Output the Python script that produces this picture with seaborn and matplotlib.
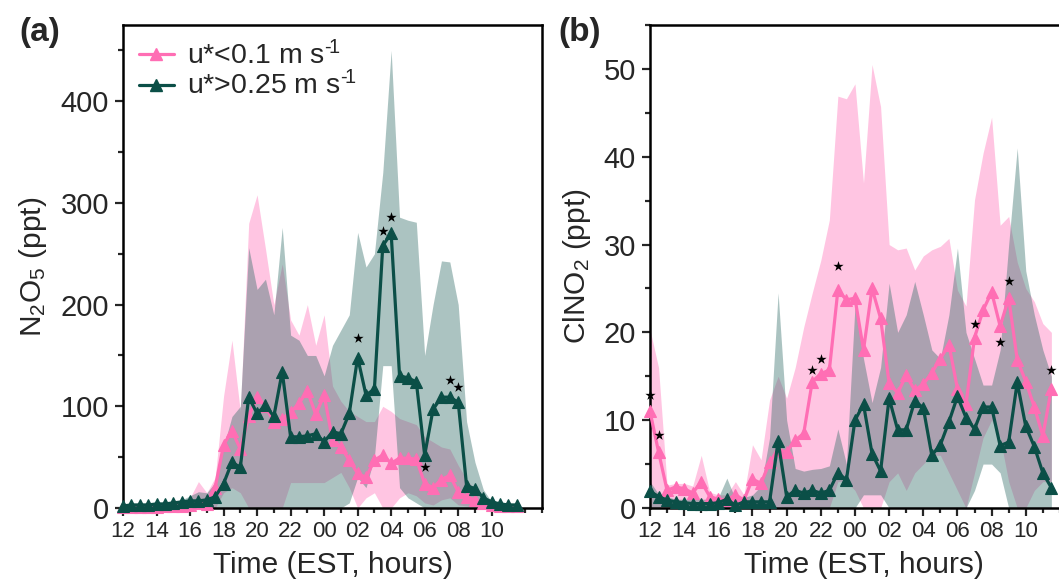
import numpy as np
import pandas as pd
import matplotlib
matplotlib.use("Agg")
import matplotlib.pyplot as plt
from matplotlib.lines import Line2D
from matplotlib.ticker import MultipleLocator
import seaborn as sns

sns.set_style("ticks")
plt.rcParams['font.family'] = ['Liberation Sans', 'DejaVu Sans']
plt.rcParams['mathtext.fontset'] = 'custom'
plt.rcParams['mathtext.rm'] = 'Liberation Sans'
plt.rcParams['mathtext.it'] = 'Liberation Sans:italic'

# half-hourly time grid (hours since 00:00 of day 1)
hours = np.arange(12.0, 36.0, 0.5)
xtick_pos = [12, 14, 16, 18, 20, 22, 24, 26, 28, 30, 32, 34]
xtick_labels = ["12", "14", "16", "18", "20", "22", "00", "02", "04", "06", "08", "10"]

# ---------------- panel (a): N2O5 ----------------
n2o5_low_mean = [1, 1, 1, 1, 1, 2, 2, 2, 3, 5, 4, 20, 62, 76, 58, 90, 109, 100, 85, 88,
                 94, 103, 115, 92, 111, 67, 60, 47, 34, 30, 47, 52, 44, 49, 49, 48, 24, 20,
                 28, 32, 16, 11, 8, 5, 3, 2, 2, 2]
n2o5_low_hi = [2, 2, 2, 3, 3, 3, 4, 5, 10, 26, 15, 30, 110, 165, 95, 280, 308, 255, 200, 240,
               185, 170, 200, 160, 190, 120, 105, 95, 90, 85, 85, 100, 95, 88, 85, 82, 70, 65,
               60, 58, 42, 28, 18, 10, 5, 3, 3, 3]
n2o5_low_lo = [0, 0, 0, 0, 0, 0, 0, 0, 0, 0, 0, 0, 15, 20, 15, 0, 0, 0, 0, 0,
               25, 25, 25, 25, 25, 30, 35, 20, 0, 10, 15, 0, 0, 10, 15, 12, 5, 3,
               8, 10, 3, 2, 1, 0, 0, 0, 0, 0]
n2o5_high_mean = [2, 3, 3, 3, 4, 4, 5, 6, 7, 7, 8, 11, 24, 45, 40, 109, 93, 101, 90, 134,
                  70, 70, 71, 73, 65, 75, 73, 93, 148, 111, 117, 258, 270, 130, 128, 124, 52, 97,
                  109, 109, 104, 22, 19, 10, 6, 4, 3, 3]
n2o5_high_hi = [3, 4, 4, 4, 5, 5, 6, 8, 12, 16, 15, 25, 60, 90, 100, 256, 215, 225, 190, 276,
                170, 165, 150, 150, 130, 160, 175, 190, 271, 237, 250, 330, 450, 286, 283, 281, 150, 200,
                243, 242, 200, 85, 45, 18, 6, 4, 3, 3]
n2o5_high_lo = [0, 0, 0, 0, 0, 0, 0, 0, 0, 0, 0, 0, 0, 0, 0, 0, 0, 0, 0, 0,
                0, 0, 0, 0, 0, 0, 0, 5, 30, 20, 50, 140, 140, 20, 10, 5, 0, 0,
                0, 0, 0, 0, 0, 0, 0, 0, 0, 0]
stars_a_idx = [28, 31, 32, 36, 39, 40]
stars_a_val = [167, 272, 286, 40, 126, 119]

# ---------------- panel (b): ClNO2 ----------------
clno2_low_mean = [11.0, 6.4, 2.0, 2.4, 2.2, 1.7, 3.0, 1.3, 1.0, 0.9, 1.5, 0.9, 3.3, 2.8, 5.2, 6.6,
                  6.4, 7.7, 8.5, 14.4, 15.3, 15.7, 24.8, 23.7, 23.9, 18.0, 25.0, 21.6, 14.2, 13.1,
                  15.1, 13.4, 14.1, 15.4, 17.0, 18.6, 13.6, 11.8, 19.4, 22.5, 24.6, 20.7, 23.9,
                  16.9, 14.4, 11.5, 8.2, 13.6]
clno2_low_hi = [20.3, 16.0, 2.6, 2.8, 2.8, 2.5, 6.0, 1.8, 1.5, 1.5, 3.0, 1.5, 7.2, 5.5, 12.3, 15.0,
                12.5, 16.0, 20.6, 24.5, 28.2, 32.8, 46.9, 46.6, 48.3, 37.0, 50.5, 45.7, 30.0, 29.4,
                29.6, 27.1, 28.7, 29.4, 29.8, 30.7, 24.8, 23.0, 35.1, 40.4, 44.5, 32.2, 33.2,
                28.0, 25.0, 23.5, 21.0, 20.0]
clno2_low_lo = [0, 0, 0, 0, 0, 0, 0, 0, 0, 0, 0, 0, 0, 0, 0, 0,
                0, 0, 0, 0, 0, 0, 3, 3, 2, 0, 0, 0, 3, 4,
                2, 4, 5, 6, 6, 4, 2, 0, 4, 8, 10, 8, 3,
                0, 0, 2, 3, 3]
clno2_high_mean = [1.9, 1.3, 0.9, 0.7, 0.6, 0.5, 0.5, 0.5, 0.6, 1.0, 0.3, 0.7, 0.7, 0.7, 0.7, 7.6,
                   1.3, 2.0, 1.7, 2.0, 1.7, 2.0, 4.0, 3.2, 10.0, 11.8, 6.2, 4.2, 12.5, 8.9,
                   8.9, 12.2, 11.4, 6.0, 7.2, 9.8, 12.7, 10.3, 9.0, 11.5, 11.5, 7.1, 7.5,
                   14.3, 9.3, 7.0, 4.0, 2.3]
clno2_high_hi = [3.0, 1.6, 1.3, 1.0, 1.0, 1.0, 1.0, 1.0, 1.2, 3.4, 1.0, 1.2, 1.5, 2.5, 8.0, 24.5,
                 10.0, 4.5, 4.2, 4.4, 4.5, 4.8, 9.0, 5.0, 23.0, 17.0, 12.0, 16.0, 25.6, 20.0,
                 22.0, 25.8, 22.0, 18.0, 17.0, 22.0, 29.6, 20.0, 17.0, 14.0, 14.0, 18.0, 30.0,
                 41.0, 27.0, 22.0, 18.0, 15.0]
clno2_high_lo = [0, 0, 0, 0, 0, 0, 0, 0, 0, 0, 0, 0, 0, 0, 0, 0,
                 0, 0, 0, 0, 0, 0, 0, 0, 0, 1.5, 1.5, 1.5, 0, 0,
                 0, 0, 0, 0, 0, 0, 0, 0, 2, 5, 5, 4, 0,
                 0, 0, 0, 0, 0]
stars_b_idx = [0, 1, 19, 20, 22, 38, 41, 42, 47]
stars_b_val = [12.9, 8.3, 15.7, 17.0, 27.6, 21.0, 18.9, 25.8, 15.7]

PINK = "#FF6EB4"
PINK_FILL = "#FF8CC6"
TEAL = "#0B4F47"
TEAL_FILL = "#2F6B66"

label_low = "u*<0.1 m s$^{\u2010\\!1}$"
label_high = "u*>0.25 m s$^{\u2010\\!1}$"

W, H = 1059, 579
fig = plt.figure(figsize=(W / 100, H / 100), dpi=100)
ax1 = fig.add_axes([123 / W, 71 / H, 419 / W, 483 / H])
ax2 = fig.add_axes([650 / W, 71 / H, 427 / W, 483 / H])


def draw(ax, lo_mean, lo_lo, lo_hi, hi_mean, hi_lo, hi_hi, s_idx, s_val):
    df = pd.DataFrame({
        "hour": np.concatenate([hours, hours]),
        "value": np.concatenate([lo_mean, hi_mean]),
        "group": ["low"] * len(hours) + ["high"] * len(hours),
    })
    ax.fill_between(hours, lo_lo, lo_hi, color=PINK_FILL, alpha=0.5, linewidth=0, zorder=1)
    ax.fill_between(hours, hi_lo, hi_hi, color=TEAL_FILL, alpha=0.4, linewidth=0, zorder=2)
    sns.lineplot(data=df, x="hour", y="value", hue="group",
                 palette={"low": PINK, "high": TEAL},
                 marker="^", markersize=8.5, markeredgewidth=0.8, linewidth=2.3,
                 ax=ax, legend=False, zorder=4, clip_on=False, estimator=None)
    for ln in ax.lines:
        ln.set_markeredgecolor(ln.get_color())
        ln.set_clip_on(False)
    sx = [hours[i] for i in s_idx]
    ax.scatter(sx, s_val, marker="*", s=60, color="black", zorder=6, linewidths=0, clip_on=False)
    ax.set_xlim(12, 37)
    ax.set_xticks(xtick_pos)
    ax.set_xticklabels(xtick_labels)
    ax.xaxis.set_minor_locator(MultipleLocator(1))
    ax.set_xlabel("Time (EST, hours)", fontsize=21.5, labelpad=6)
    ax.tick_params(axis="x", which="major", labelsize=16, length=6, width=1.6, pad=3.5)
    ax.tick_params(axis="y", which="major", labelsize=21, length=6, width=1.6, pad=4)
    ax.tick_params(which="minor", length=3.5, width=1.6)
    for sp in ax.spines.values():
        sp.set_linewidth(1.8)
        sp.set_color("black")


draw(ax1, n2o5_low_mean, n2o5_low_lo, n2o5_low_hi,
     n2o5_high_mean, n2o5_high_lo, n2o5_high_hi, stars_a_idx, stars_a_val)
ax1.set_ylim(0, 475)
ax1.set_yticks([0, 100, 200, 300, 400])
ax1.yaxis.set_minor_locator(MultipleLocator(50))
ax1.set_ylabel("N$_2$O$_5$ (ppt)", fontsize=21.5, labelpad=8)

draw(ax2, clno2_low_mean, clno2_low_lo, clno2_low_hi,
     clno2_high_mean, clno2_high_lo, clno2_high_hi, stars_b_idx, stars_b_val)
ax2.set_ylim(0, 55)
ax2.set_yticks([0, 10, 20, 30, 40, 50])
ax2.yaxis.set_minor_locator(MultipleLocator(5))
ax2.set_ylabel("ClNO$_2$ (ppt)", fontsize=21.5, labelpad=8)

handles = [
    Line2D([], [], color=PINK, marker="^", markersize=8.5, linewidth=2.3, markeredgecolor=PINK),
    Line2D([], [], color=TEAL, marker="^", markersize=8.5, linewidth=2.3, markeredgecolor=TEAL),
]
ax1.legend(handles, [label_low, label_high], loc="upper left", bbox_to_anchor=(0.0, 1.0),
           frameon=False, fontsize=20.5, handlelength=1.25, handletextpad=0.45,
           labelspacing=0.05, borderaxespad=0.25, borderpad=0.3)

fig.text(40 / W, 1 - 33 / H, "(a)", fontsize=24, fontweight="bold", ha="center", va="center")
fig.text(580 / W, 1 - 33 / H, "(b)", fontsize=24, fontweight="bold", ha="center", va="center")

fig.savefig("out.png", dpi=100)
